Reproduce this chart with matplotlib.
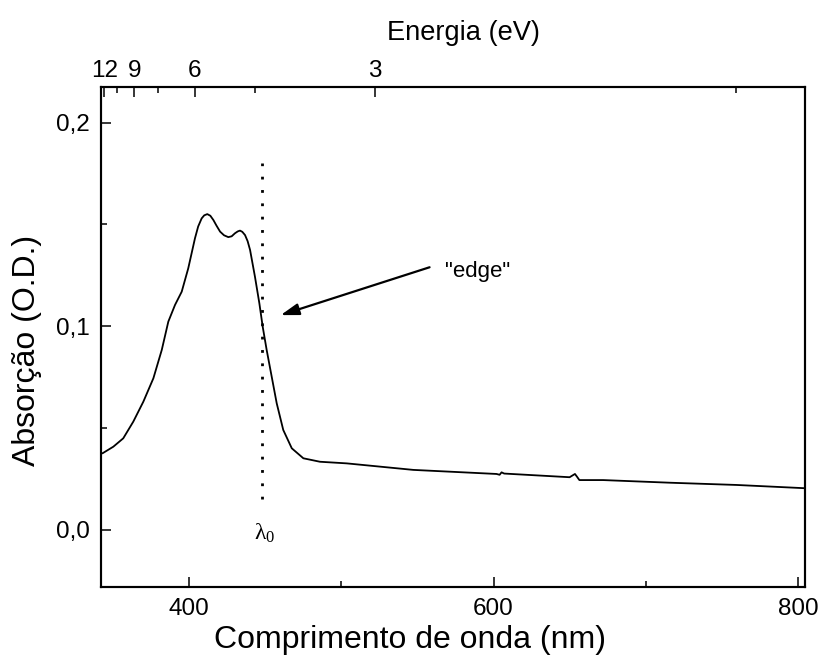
import numpy as np
import matplotlib
matplotlib.use("Agg")
import matplotlib.pyplot as plt
from matplotlib.ticker import FixedLocator, FuncFormatter

# ---------------- DATA ----------------
wavelength = [342.2, 343.3, 350.3, 356.8, 363.4, 370.0, 376.6, 382.1, 386.4,
              390.8, 395.2, 399.5, 403.9, 406.0, 408.3, 410.0, 412.0, 414.0,
              416.0, 418.0, 420.4, 423.0, 425.8, 428.0, 430.2, 432.0, 433.5,
              435.0, 436.8, 438.5, 440.1, 443.3, 446.2, 448.4, 451.0, 454.3,
              457.6, 461.9, 467.5, 475.1, 486.0, 503.6, 547.3, 602.0, 604.0,
              605.3, 607.0, 650.0, 653.5, 654.8, 656.4, 672.0, 716.0, 759.7,
              804.6]
absorbance = [0.0375, 0.0377, 0.0409, 0.0450, 0.0532, 0.0630, 0.0745, 0.0884,
              0.1023, 0.1105, 0.1170, 0.1285, 0.1432, 0.1490, 0.1530, 0.1545,
              0.1551, 0.1543, 0.1522, 0.1495, 0.1465, 0.1447, 0.1438, 0.1442,
              0.1457, 0.1466, 0.1470, 0.1464, 0.1448, 0.1418, 0.1375, 0.1244,
              0.1113, 0.0998, 0.0884, 0.0753, 0.0622, 0.0491, 0.0401, 0.0352,
              0.0335, 0.0327, 0.0295, 0.0275, 0.0271, 0.0283, 0.0277, 0.0259,
              0.0275, 0.0262, 0.0245, 0.0245, 0.0232, 0.0221, 0.0205]

energy_major = [12, 9, 6, 3]
energy_minor = [10.5, 7.5, 4.5, 1.5]

lambda0 = 448.2
lambda0_span = (0.015, 0.180)

edge_text_pos = (568, 0.1267)
edge_tail = (558, 0.129)
edge_tip = (460.2, 0.1055)


# top axis scale as drawn in the original (not 1240/E)
def energy_to_wl(e):
    return 711.3 / np.asarray(e, dtype=float) + 285.1


# ---------------- PLOT ----------------
plt.rcParams["font.family"] = ["Liberation Sans", "DejaVu Sans"]
plt.rcParams["mathtext.fontset"] = "custom"
plt.rcParams["mathtext.rm"] = "Liberation Serif"
plt.rcParams["mathtext.it"] = "Liberation Serif"
plt.rcParams["mathtext.bf"] = "Liberation Serif:bold"

fig = plt.figure(figsize=(8.2, 6.71), dpi=100)
ax = fig.add_axes([0.1232, 0.1252, 0.8585, 0.7451])

ax.plot(wavelength, absorbance, color="black", lw=1.3)
ax.plot([lambda0, lambda0], lambda0_span, color="black", lw=2.0,
        linestyle=(0, (1, 3.8)))

ax.text(lambda0 + 1.5, 0.004, r"$\lambda_0$", fontsize=17,
        ha="center", va="top")
ax.text(edge_text_pos[0], edge_text_pos[1], '"edge"', fontsize=16,
        ha="left", va="center")
ax.annotate("", xy=edge_tip, xytext=edge_tail,
            arrowprops=dict(arrowstyle="-|>,head_length=1.1,head_width=0.35",
                            color="black", lw=1.6, shrinkA=0, shrinkB=0))

ax.set_xlim(342.2, 804.6)
ax.set_ylim(-0.028, 0.2175)

ax.xaxis.set_major_locator(FixedLocator([400, 600, 800]))
ax.xaxis.set_minor_locator(FixedLocator([500, 700]))
ax.yaxis.set_major_locator(FixedLocator([0.0, 0.1, 0.2]))
ax.yaxis.set_minor_locator(FixedLocator([0.05, 0.15]))
ax.yaxis.set_major_formatter(FuncFormatter(lambda v, p: f"{v:.1f}".replace(".", ",")))

ax.tick_params(which="both", direction="in", top=False, right=False,
               labelsize=17.5, width=1.1, pad=8)
ax.tick_params(which="major", length=7.5)
ax.tick_params(which="minor", length=4.5)

for s in ax.spines.values():
    s.set_linewidth(1.5)

ax.set_xlabel("Comprimento de onda (nm)", fontsize=23)
ax.xaxis.set_label_coords(0.439, -0.076)
ax.set_ylabel("Absorção (O.D.)", fontsize=23)
ax.yaxis.set_label_coords(-0.084, 0.474)

# top energy axis
ax2 = ax.twiny()
ax2.set_xlim(ax.get_xlim())
ax2.set_xticks(energy_to_wl(energy_major))
ax2.set_xticklabels([str(e) for e in energy_major])
ax2.set_xticks(energy_to_wl(energy_minor), minor=True)
ax2.tick_params(which="both", direction="in", labelsize=17.5, width=1.1, pad=3.5)
ax2.tick_params(which="major", length=7.5)
ax2.tick_params(which="minor", length=4.5)
ax2.set_xlabel("Energia (eV)", fontsize=19.6)
ax2.xaxis.set_label_coords(0.515, 1.095)
for s in ax2.spines.values():
    s.set_linewidth(1.5)

fig.savefig("out.png", dpi=100)
